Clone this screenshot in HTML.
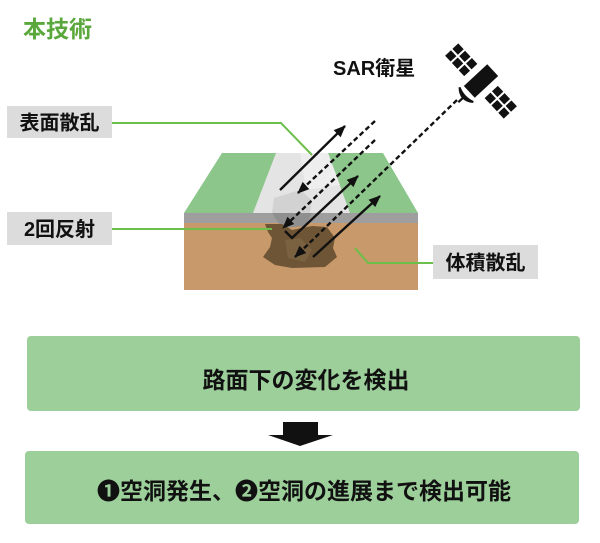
<!DOCTYPE html>
<html>
<head>
<meta charset="utf-8">
<style>
html,body{margin:0;padding:0;background:#fff;}
body{width:600px;height:538px;overflow:hidden;}
svg text{font-family:"Liberation Sans","Noto Sans CJK JP",sans-serif;font-weight:bold;}
</style>
</head>
<body>
<svg width="600" height="538" viewBox="0 0 600 538" xmlns="http://www.w3.org/2000/svg">
  <defs>
    <marker id="ah" markerWidth="14" markerHeight="12" refX="11" refY="5" orient="auto" markerUnits="userSpaceOnUse">
      <path d="M0,0 L12,5 L0,10 Z" fill="#111"/>
    </marker>
  </defs>

  <!-- Title -->
  <text x="23" y="37" font-size="23" fill="#5aa83c">本技術</text>

  <!-- SAR label -->
  <text x="333" y="75" font-size="20" fill="#111">SAR衛星</text>

  <!-- Satellite -->
  <g transform="translate(481,81) rotate(-43)" fill="#111">
    <rect x="-16" y="-8" width="32" height="16"/>
    <!-- panel 1 -->
    <g transform="translate(-9,-43)">
      <rect x="0" y="0" width="8" height="8"/><rect x="10" y="0" width="8" height="8"/>
      <rect x="0" y="10" width="8" height="8"/><rect x="10" y="10" width="8" height="8"/>
      <rect x="0" y="20" width="8" height="8"/><rect x="10" y="20" width="8" height="8"/>
    </g>
    <!-- panel 2 -->
    <g transform="translate(-9,15)">
      <rect x="0" y="0" width="8" height="8"/><rect x="10" y="0" width="8" height="8"/>
      <rect x="0" y="10" width="8" height="8"/><rect x="10" y="10" width="8" height="8"/>
      <rect x="0" y="20" width="8" height="8"/><rect x="10" y="20" width="8" height="8"/>
    </g>
    <!-- dish -->
    <path d="M-20,-10 Q-29,0 -20,10 Q-24,0 -20,-10 Z" stroke="#111" stroke-width="2"/>
    <line x1="-23" y1="0" x2="-31" y2="0" stroke="#111" stroke-width="2.2"/>
  </g>

  <!-- Block -->
  <polygon points="184,223 418,223 418,290 184,290" fill="#c8996a"/>
  <polygon points="184,213 418,213 418,223 184,223" fill="#9e9e9e"/>
  <polygon points="222,153 383,153 418,213 184,213" fill="#8cc68b"/>
  <polygon points="276,153 328,153 350,213 253,213" fill="#e4e4e4"/>
  <polygon points="300,153 328,153 340,185 306,190" fill="#eeeeee"/>
  <polygon points="274,198 300,190 312,200 310,213 272,213" fill="#d2d2d2"/>
  <polygon points="272,213 312,213 305,226 282,228" fill="#8f8f8f"/>
  <!-- Cavity -->
  <polygon points="265,224 282,224 292,230 312,226 327,227 335,238 333,248 337,257 325,267 292,268 275,265 263,257 270,247 272,238 268,232" fill="#6e5536"/>
  <polygon points="285,240 300,238 312,250 305,262 288,258" fill="#7d6443" opacity="0.8"/>

  <!-- Leader lines -->
  <polyline points="112,123 281,123 312,155" fill="none" stroke="#6cbf4a" stroke-width="2"/>
  <line x1="112" y1="229" x2="272" y2="229" stroke="#6cbf4a" stroke-width="2"/>
  <polyline points="355,248 368,263 433,263" fill="none" stroke="#6cbf4a" stroke-width="2"/>

  <!-- Label boxes -->
  <rect x="7" y="106" width="105" height="32" fill="#dcdcdc"/>
  <text x="59.5" y="129.5" font-size="20" fill="#111" text-anchor="middle">表面散乱</text>
  <rect x="7" y="212" width="105" height="33" fill="#dcdcdc"/>
  <text x="59.5" y="236" font-size="20" fill="#111" text-anchor="middle">2回反射</text>
  <rect x="433" y="245" width="105" height="34" fill="#dcdcdc"/>
  <text x="485.5" y="269.5" font-size="20" fill="#111" text-anchor="middle">体積散乱</text>

  <!-- Arrows -->
  <g stroke="#111" stroke-width="2.4" fill="none">
    <line x1="280" y1="190" x2="345" y2="126" marker-end="url(#ah)"/>
    <line x1="375" y1="121" x2="298" y2="193" stroke-dasharray="5 3" marker-end="url(#ah)"/>
    <line x1="375" y1="140" x2="283" y2="228" stroke-dasharray="5 3" marker-end="url(#ah)"/>
    <polyline points="285,231 292,238 358,176" marker-end="url(#ah)"/>
    <line x1="457" y1="100" x2="295" y2="257" stroke-dasharray="5 3" marker-end="url(#ah)"/>
    <line x1="313" y1="257" x2="380" y2="196" marker-end="url(#ah)"/>
  </g>

  <!-- Box 1 -->
  <rect x="27" y="336" width="553" height="75" rx="4" fill="#9ccf9a"/>
  <text x="306" y="388" font-size="23" fill="#111" text-anchor="middle">路面下の変化を検出</text>

  <!-- Down arrow -->
  <polygon points="283,422 318,422 318,435 333,435 300,446 268,435 283,435" fill="#111"/>

  <!-- Box 2 -->
  <rect x="25" y="451" width="554" height="73" rx="4" fill="#9ccf9a"/>
  <text x="304" y="499" font-size="23" fill="#111" text-anchor="middle">❶空洞発生、❷空洞の進展まで検出可能</text>
</svg>
</body>
</html>
